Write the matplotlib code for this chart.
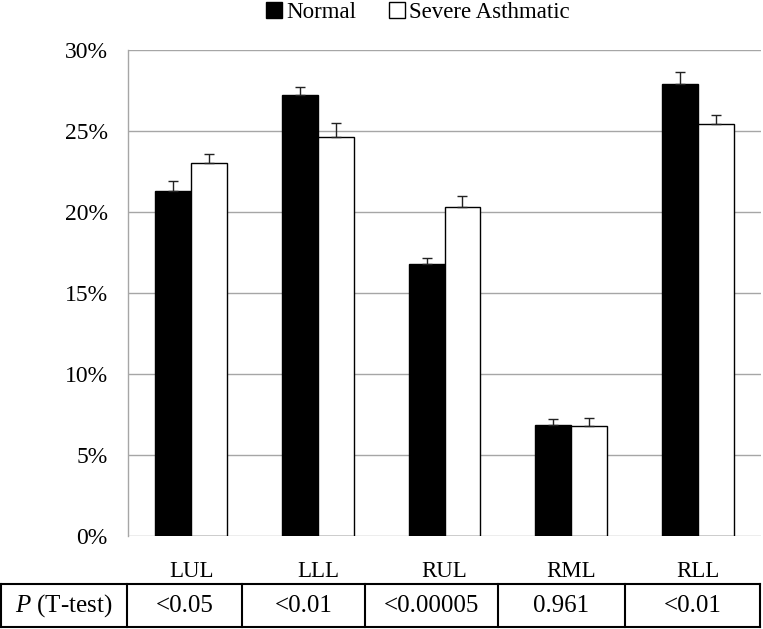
import matplotlib
matplotlib.use("Agg")
import matplotlib.pyplot as plt
from matplotlib.lines import Line2D
from matplotlib.ticker import FuncFormatter

plt.rcParams['font.family'] = ['Liberation Serif', 'DejaVu Serif']
plt.rcParams['mathtext.fontset'] = 'custom'
plt.rcParams['mathtext.it'] = 'Liberation Serif:italic'
plt.rcParams['mathtext.rm'] = 'Liberation Serif'

###DATA###
lobes = ['LUL', 'LLL', 'RUL', 'RML', 'RLL']
normal = [21.3, 27.2, 16.8, 6.85, 27.9]
normal_err = [0.6, 0.5, 0.33, 0.35, 0.72]
severe = [23.0, 24.6, 20.3, 6.8, 25.4]
severe_err = [0.55, 0.85, 0.65, 0.5, 0.56]
p_header = 'T-test'
p_values = ['<0.05', '<0.01', '<0.00005', '0.961', '<0.01']

###FIGURE###
W, H = 763, 629
fig = plt.figure(figsize=(W / 100, H / 100), dpi=100)
ax = fig.add_axes([128 / W, 1 - 536 / H, (761 - 128) / W, (536 - 49.6) / H])

x = list(range(len(lobes)))
bw = 0.284
no_low = [0] * len(lobes)

b1 = ax.bar(x, normal, width=-bw, align='edge', color='black', edgecolor='black',
            linewidth=1, label='Normal', zorder=2)
b2 = ax.bar(x, severe, width=bw, align='edge', color='white', edgecolor='black',
            linewidth=1, label='Severe Asthmatic', zorder=2)
ax.errorbar([i - bw / 2 for i in x], normal, yerr=[no_low, normal_err], fmt='none',
            ecolor='#222222', elinewidth=1, capsize=3.3, capthick=1, zorder=3)
ax.errorbar([i + bw / 2 for i in x], severe, yerr=[no_low, severe_err], fmt='none',
            ecolor='#222222', elinewidth=1, capsize=3.3, capthick=1, zorder=3)

ax.set_xlim(-0.5, len(lobes) - 0.5)
ax.set_ylim(0, 30)
ax.set_yticks([0, 5, 10, 15, 20, 25, 30])
ax.yaxis.set_major_formatter(FuncFormatter(lambda v, p: '%d%%' % v))
ax.set_xticks(x)
ax.set_xticklabels(lobes)
ax.tick_params(axis='y', length=0, pad=14.5, labelsize=17)
ax.tick_params(axis='x', length=0, pad=18, labelsize=16.5)
ax.yaxis.grid(True, color='#a6a6a6', linewidth=1)
ax.set_axisbelow(True)
for s in ['top', 'right', 'bottom']:
    ax.spines[s].set_visible(False)
ax.spines['left'].set_color('#a6a6a6')
ax.spines['left'].set_linewidth(1)

fig.legend(handles=[b1, b2], loc='upper center', bbox_to_anchor=(0.548, 1.03),
           ncol=2, frameon=False, fontsize=16.5, handlelength=0.7, handleheight=0.7,
           handletextpad=0.2, columnspacing=1.4)

###P-VALUE TABLE###
cols = [1, 127.3, 242.3, 365, 498.3, 624.7, 760]
top, bot = 584.3, 626.7
fy = lambda py: 1 - py / H
fx = lambda px: px / W
lk = dict(color='black', linewidth=1.5, transform=fig.transFigure)
fig.add_artist(Line2D([fx(cols[0]), fx(cols[-1])], [fy(top), fy(top)], **lk))
fig.add_artist(Line2D([fx(cols[0]), fx(cols[-1])], [fy(bot), fy(bot)], **lk))
for c in cols:
    fig.add_artist(Line2D([fx(c), fx(c)], [fy(top), fy(bot)], **lk))
ty = fy((top + bot) / 2)
fig.text(fx((cols[0] + cols[1]) / 2), ty, r'$P$ (%s)' % p_header, ha='center',
         va='center', fontsize=18)
for i, pv in enumerate(p_values):
    fig.text(fx((cols[i + 1] + cols[i + 2]) / 2), ty, pv, ha='center', va='center',
             fontsize=18)

fig.savefig('out.png', dpi=100)
